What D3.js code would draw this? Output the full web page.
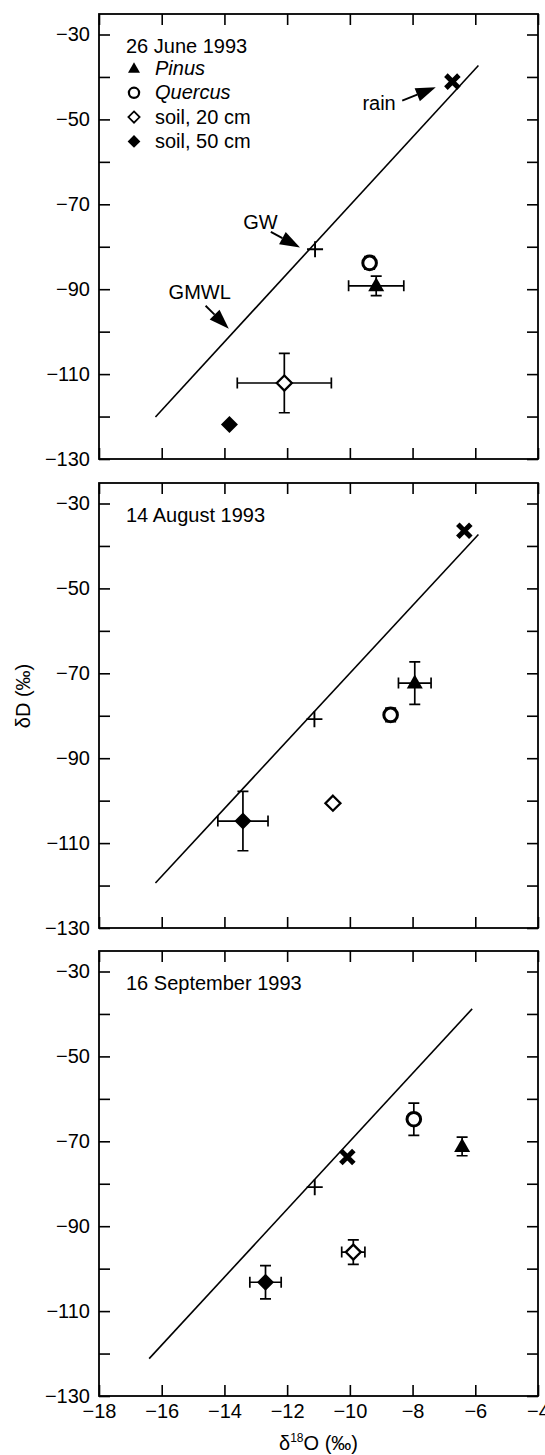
<!DOCTYPE html>
<html><head><meta charset="utf-8">
<script src="https://cdn.jsdelivr.net/npm/d3@7"></script>
<style>body{margin:0;background:#fff}svg{display:block}text{font-family:"Liberation Sans",Arial,sans-serif;fill:#000}</style>
</head><body><div id="chart"></div>
<script>
// ---- data ----
const panelTitles = ["26 June 1993", "14 August 1993", "16 September 1993"];
const legendNames = ["Pinus", "Quercus", "soil, 20 cm", "soil, 50 cm"];
const xTickValues = [-18, -16, -14, -12, -10, -8, -6, -4];
const yTickValues = [-130, -120, -110, -100, -90, -80, -70, -60, -50, -40, -30];
const yLabelValues = [-130, -110, -90, -70, -50, -30];

const pinusX = [-9.16, -7.93, -6.42], pinusY = [-89.2, -72.3, -71.2];
const pinusXErr = [0.88, 0.52, 0], pinusYErr = [2.3, 5.0, 2.2];
const quercusX = [-9.37, -8.70, -7.96], quercusY = [-83.8, -79.8, -64.8];
const quercusXErr = [0, 0, 0], quercusYErr = [1.5, 1.6, 3.8];
const soil20X = [-12.09, -10.54, -9.89], soil20Y = [-112.1, -100.6, -96.1];
const soil20XErr = [1.5, 0, 0.37], soil20YErr = [7.0, 0, 2.9];
const soil50X = [-13.84, -13.41, -12.69], soil50Y = [-121.9, -104.8, -103.2];
const soil50XErr = [0, 0.8, 0.5], soil50YErr = [0, 7.0, 3.9];
const rainX = [-6.73, -6.35, -10.08], rainY = [-41.1, -36.4, -73.7];
const gwX = [-11.11, -11.13, -11.12], gwY = [-80.6, -80.8, -80.8];
const gmwlX0 = [-16.2, -16.2, -16.4], gmwlY0 = [-120.1, -119.4, -121.2];
const gmwlX1 = [-5.9, -5.9, -6.1], gmwlY1 = [-37.3, -37.3, -38.8];

// annotations (panel 1): label, text pos, arrow tail, arrow tip (data units)
const annotLabels = ["rain", "GW", "GMWL"];
const annotTextX = [-9.6, -13.4, -15.78], annotTextY = [-47.9, -75.8, -92.4];
const annotTailX = [-8.33, -12.52, -14.6], annotTailY = [-45.6, -76.5, -93.9];
const annotTipX = [-7.26, -11.59, -13.86], annotTipY = [-42.4, -80.2, -99.3];

// ---- layout ----
const W = 545, Hpage = 1455;
const left = 99, right = 538;
const panelTops = [14, 483, 951];
const panelH = 445;
const fs = 20;

const svg = d3.select("#chart").append("svg").attr("width", W).attr("height", Hpage);
const x = d3.scaleLinear().domain([-18, -4]).range([left, right]);

function drawMarker(g, type, cx, cy, s) {
  s = s || 1;
  if (type === "tri") {
    g.append("path").attr("d", `M${cx},${cy - 8.5*s}L${cx + 8*s},${cy + 5.5*s}L${cx - 8*s},${cy + 5.5*s}Z`).attr("fill", "#000");
  } else if (type === "circ") {
    g.append("circle").attr("cx", cx).attr("cy", cy).attr("r", 6.8*s).attr("fill", "#fff").attr("stroke", "#000").attr("stroke-width", 3*s);
  } else if (type === "odia") {
    g.append("path").attr("d", `M${cx},${cy - 7.5*s}L${cx + 7.5*s},${cy}L${cx},${cy + 7.5*s}L${cx - 7.5*s},${cy}Z`).attr("fill", "#fff").attr("stroke", "#000").attr("stroke-width", 2.3*s);
  } else if (type === "fdia") {
    g.append("path").attr("d", `M${cx},${cy - 8.5*s}L${cx + 8.5*s},${cy}L${cx},${cy + 8.5*s}L${cx - 8.5*s},${cy}Z`).attr("fill", "#000");
  } else if (type === "cross") {
    const a = 6.5;
    g.append("path").attr("d", `M${cx - a},${cy - a}L${cx + a},${cy + a}M${cx - a},${cy + a}L${cx + a},${cy - a}`).attr("stroke", "#000").attr("stroke-width", 5).attr("fill", "none");
  } else if (type === "plus") {
    const a = 8;
    g.append("path").attr("d", `M${cx - a},${cy}L${cx + a},${cy}M${cx},${cy - a}L${cx},${cy + a}`).attr("stroke", "#000").attr("stroke-width", 1.9).attr("fill", "none");
  }
}

function errBars(g, cx, cy, y, xv, yv, xe, ye) {
  const cap = 5.5;
  const st = (sel) => sel.attr("stroke", "#000").attr("stroke-width", 1.7).attr("fill", "none");
  if (xe > 0) {
    const x0 = x(xv - xe), x1 = x(xv + xe);
    st(g.append("path").attr("d", `M${x0},${cy}L${x1},${cy}M${x0},${cy - cap}L${x0},${cy + cap}M${x1},${cy - cap}L${x1},${cy + cap}`));
  }
  if (ye > 0) {
    const y0 = y(yv - ye), y1 = y(yv + ye);
    st(g.append("path").attr("d", `M${cx},${y0}L${cx},${y1}M${cx - cap},${y0}L${cx + cap},${y0}M${cx - cap},${y1}L${cx + cap},${y1}`));
  }
}

panelTops.forEach((top, i) => {
  const bottom = top + panelH;
  const y = d3.scaleLinear().domain([-130, -30]).range([bottom, bottom - 424.5]);
  const g = svg.append("g");

  // axes (inward ticks)
  const fmt = d3.format("d");
  const axL = d3.axisLeft(y).tickValues(yTickValues).tickSize(-11).tickPadding(9)
    .tickFormat(d => yLabelValues.includes(d) ? fmt(d) : "");
  const axR = d3.axisRight(y).tickValues(yTickValues).tickSize(-11).tickFormat("");
  const axT = d3.axisTop(x).tickValues(xTickValues).tickSize(-11).tickFormat("");
  const axB = d3.axisBottom(x).tickValues(xTickValues).tickSize(-11).tickPadding(8)
    .tickFormat(i === 2 ? fmt : "");
  [[axL, `translate(${left},0)`], [axR, `translate(${right},0)`], [axT, `translate(0,${top})`], [axB, `translate(0,${bottom})`]]
    .forEach(([ax, tr]) => {
      const a = g.append("g").attr("transform", tr).call(ax);
      a.select(".domain").remove();
      a.selectAll(".tick line").attr("stroke", "#000").attr("stroke-width", 1.6);
      a.selectAll(".tick text").attr("font-size", fs).attr("font-family", "Liberation Sans, Arial, sans-serif").attr("fill", "#000");
    });

  // frame
  g.append("rect").attr("x", left).attr("y", top).attr("width", right - left).attr("height", panelH)
    .attr("fill", "none").attr("stroke", "#000").attr("stroke-width", 1.8);

  // GMWL
  g.append("line").attr("x1", x(gmwlX0[i])).attr("y1", y(gmwlY0[i])).attr("x2", x(gmwlX1[i])).attr("y2", y(gmwlY1[i]))
    .attr("stroke", "#000").attr("stroke-width", 1.6);

  // title
  g.append("text").attr("x", left + 27).attr("y", top + 38.5).attr("font-size", fs).text(panelTitles[i]);

  // series
  const series = [
    ["circ", quercusX, quercusY, quercusXErr, quercusYErr],
    ["tri", pinusX, pinusY, pinusXErr, pinusYErr],
    ["odia", soil20X, soil20Y, soil20XErr, soil20YErr],
    ["fdia", soil50X, soil50Y, soil50XErr, soil50YErr]
  ];
  series.forEach(([type, xs, ys, xe, ye]) => {
    errBars(g, x(xs[i]), y(ys[i]), y, xs[i], ys[i], xe[i], ye[i]);
  });
  series.forEach(([type, xs, ys]) => drawMarker(g, type, x(xs[i]), y(ys[i])));
  drawMarker(g, "cross", x(rainX[i]), y(rainY[i]));
  drawMarker(g, "plus", x(gwX[i]), y(gwY[i]));

  if (i === 0) {
    // legend
    const types = ["tri", "circ", "odia", "fdia"];
    legendNames.forEach((n, k) => {
      const by = top + 61 + k * 24.3;
      drawMarker(g, types[k], left + 35, by - 6.5, 0.75);
      g.append("text").attr("x", left + 56).attr("y", by).attr("font-size", fs)
        .attr("font-style", k < 2 ? "italic" : "normal").text(n);
    });
    // annotations with arrows
    annotLabels.forEach((lab, k) => {
      g.append("text").attr("x", x(annotTextX[k])).attr("y", y(annotTextY[k])).attr("font-size", fs).text(lab);
      const tx = x(annotTailX[k]), ty = y(annotTailY[k]);
      const hx = x(annotTipX[k]), hy = y(annotTipY[k]);
      const ang = Math.atan2(hy - ty, hx - tx);
      const L = 20, Wd = 7;
      const bx = hx - L * Math.cos(ang), byy = hy - L * Math.sin(ang);
      g.append("line").attr("x1", tx).attr("y1", ty).attr("x2", bx).attr("y2", byy).attr("stroke", "#000").attr("stroke-width", 1.9);
      const px = -Math.sin(ang) * Wd, py = Math.cos(ang) * Wd;
      g.append("path").attr("d", `M${hx},${hy}L${bx + px},${byy + py}L${bx - px},${byy - py}Z`).attr("fill", "#000");
    });
  }
});

// axis titles
svg.append("text").attr("transform", `translate(30,696) rotate(-90)`).attr("text-anchor", "middle").attr("font-size", fs)
  .text("δD (‰)");
const xl = svg.append("text").attr("x", (left + right) / 2).attr("y", 1450).attr("text-anchor", "middle").attr("font-size", fs);
xl.append("tspan").text("δ");
xl.append("tspan").attr("font-size", 12).attr("dy", -8).text("18");
xl.append("tspan").attr("dy", 8).text("O (‰)");
</script></body></html>
